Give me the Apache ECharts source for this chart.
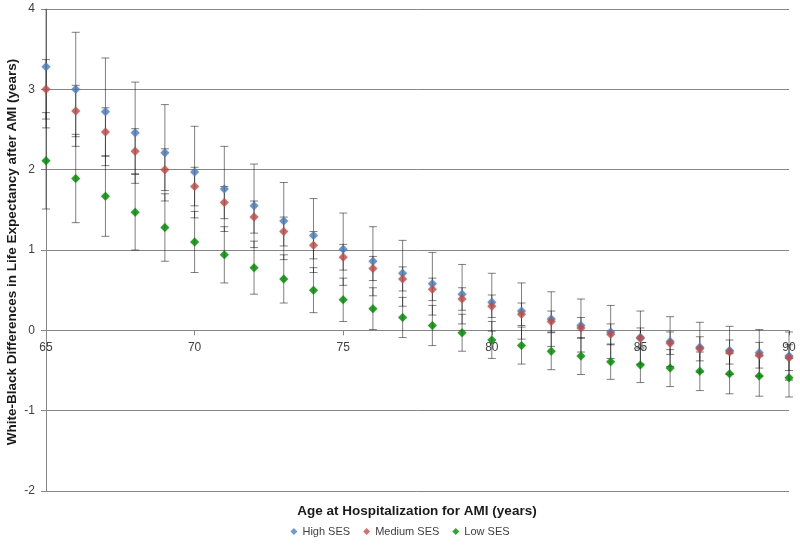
<!DOCTYPE html>
<html>
<head>
<meta charset="utf-8">
<script src="https://cdn.jsdelivr.net/npm/echarts@6/dist/echarts.min.js"></script>
<style>html,body{margin:0;padding:0;background:#fff;}#c{width:800px;height:548px;}</style>
</head>
<body>
<div id="c"></div>
<script>
var ages = [65,66,67,68,69,70,71,72,73,74,75,76,77,78,79,80,81,82,83,84,85,86,87,88,89,90];
var seriesNames = ['High SES','Medium SES','Low SES'];
var highVal = [3.28,3.00,2.72,2.46,2.21,1.97,1.76,1.55,1.36,1.18,1.01,0.86,0.71,0.58,0.45,0.35,0.24,0.14,0.06,-0.02,-0.09,-0.14,-0.21,-0.25,-0.28,-0.32];
var highErr = [0.76,0.71,0.67,0.63,0.60,0.57,0.53,0.52,0.48,0.46,0.45,0.43,0.41,0.39,0.37,0.36,0.35,0.34,0.33,0.33,0.33,0.31,0.31,0.30,0.29,0.30];
var medVal  = [3.00,2.73,2.47,2.23,2.00,1.79,1.59,1.41,1.23,1.06,0.91,0.77,0.64,0.51,0.39,0.30,0.20,0.11,0.03,-0.05,-0.10,-0.16,-0.23,-0.27,-0.31,-0.34];
var medErr  = [0.37,0.32,0.30,0.28,0.26,0.24,0.20,0.20,0.18,0.17,0.16,0.15,0.15,0.14,0.14,0.14,0.14,0.13,0.13,0.13,0.13,0.14,0.15,0.15,0.16,0.16];
var lowVal  = [2.11,1.89,1.67,1.47,1.28,1.10,0.94,0.78,0.64,0.50,0.38,0.27,0.16,0.06,-0.03,-0.12,-0.19,-0.26,-0.32,-0.39,-0.43,-0.47,-0.51,-0.54,-0.57,-0.59];
var lowErr  = [0.60,0.55,0.50,0.47,0.42,0.38,0.35,0.33,0.30,0.28,0.27,0.26,0.25,0.25,0.23,0.23,0.23,0.23,0.23,0.22,0.22,0.23,0.24,0.25,0.25,0.24];
var yTicks = {min:-2, max:4, interval:1};
var xTicks = {min:65, max:90, interval:5};
var colors = ['#4F81BD','#C0504D','#008C00'];

var vals = [highVal, medVal, lowVal];
var errs = [highErr, medErr, lowErr];

function errData(v, e) {
  return ages.map(function (a, i) { return [a, v[i] - e[i], v[i] + e[i]]; });
}
function pointData(v) {
  return ages.map(function (a, i) { return [a, v[i]]; });
}

function renderErr(params, api) {
  var x = api.value(0), lo = api.value(1), hi = api.value(2);
  var capHi = hi <= yTicks.max;
  var hiC = Math.min(hi, yTicks.max);
  var loC = Math.max(lo, yTicks.min);
  var p1 = api.coord([x, hiC]);
  var p2 = api.coord([x, loC]);
  var w = 4;
  var style = {stroke: 'rgba(0,0,0,0.5)', lineWidth: 1};
  var children = [
    {type: 'line', shape: {x1: p1[0], y1: p1[1], x2: p2[0], y2: p2[1]}, style: style}
  ];
  if (capHi) children.push({type: 'line', shape: {x1: p1[0] - w, y1: p1[1], x2: p1[0] + w, y2: p1[1]}, style: style});
  children.push({type: 'line', shape: {x1: p2[0] - w, y1: p2[1], x2: p2[0] + w, y2: p2[1]}, style: style});
  return {type: 'group', children: children};
}

var series = [];
for (var s = 0; s < 3; s++) {
  series.push({
    type: 'custom',
    name: seriesNames[s] + ' err',
    renderItem: renderErr,
    data: errData(vals[s], errs[s]),
    encode: {x: 0, y: [1, 2]},
    z: 2,
    silent: true
  });
}
for (var s2 = 0; s2 < 3; s2++) {
  series.push({
    type: 'scatter',
    name: seriesNames[s2],
    data: pointData(vals[s2]),
    symbol: 'diamond',
    symbolSize: 9,
    itemStyle: {color: colors[s2], shadowColor: 'rgba(0,0,0,0.25)', shadowBlur: 2},
    z: 5
  });
}

var chart = echarts.init(document.getElementById('c'), null, {renderer: 'canvas'});
chart.setOption({
  animation: false,
  color: colors,
  grid: {left: 46, right: 11, top: 9, bottom: 57, containLabel: false},
  xAxis: {
    type: 'value', min: xTicks.min, max: xTicks.max, interval: xTicks.interval,
    position: 'bottom', offset: 0,
    axisLine: {onZero: false, lineStyle: {color: '#868686'}},
    axisTick: {show: true, length: 5, inside: false, lineStyle: {color: '#868686'}},
    axisLabel: {color: '#404040', fontSize: 12, fontFamily: 'Liberation Sans', margin: 11},
    splitLine: {show: false}
  },
  yAxis: {
    type: 'value', min: yTicks.min, max: yTicks.max, interval: yTicks.interval,
    axisLine: {show: true, onZero: false, lineStyle: {color: '#868686'}},
    axisTick: {show: true, length: 5, lineStyle: {color: '#868686'}},
    axisLabel: {color: '#404040', fontSize: 12, fontFamily: 'Liberation Sans', margin: 11},
    splitLine: {show: true, lineStyle: {color: '#868686', width: 1}}
  },
  legend: {
    data: seriesNames,
    icon: 'diamond',
    itemWidth: 7, itemHeight: 7, itemGap: 13,
    top: 521, left: 'center',
    textStyle: {color: '#404040', fontSize: 11, fontFamily: 'Liberation Sans'}
  },
  graphic: [
    {
      type: 'text', x: 12, y: 252, rotation: Math.PI / 2,
      style: {text: 'White-Black Differences in Life Expectancy after AMI (years)', font: 'bold 13.5px "Liberation Sans"', fill: '#1a1a1a', align: 'center', verticalAlign: 'middle'}
    },
    {
      type: 'text', x: 417, y: 511,
      style: {text: 'Age at Hospitalization for AMI (years)', font: 'bold 13.5px "Liberation Sans"', fill: '#1a1a1a', align: 'center', verticalAlign: 'middle'}
    }
  ],
  series: series
});
// Place the x axis (line, ticks, labels) on the y = 0 line, as in the reference.
var yZero = chart.convertToPixel({yAxisIndex: 0}, 0);
var yBottom = chart.convertToPixel({yAxisIndex: 0}, yTicks.min);
chart.setOption({xAxis: {offset: yZero - yBottom}});
</script>
</body>
</html>
